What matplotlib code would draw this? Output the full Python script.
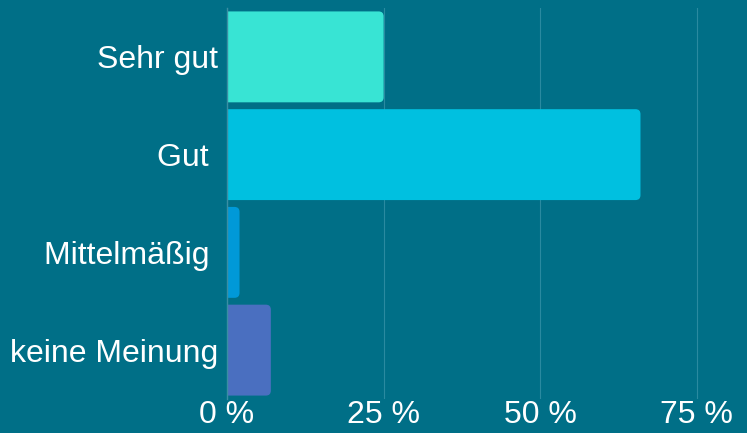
import matplotlib
matplotlib.use("Agg")
import matplotlib.pyplot as plt
from matplotlib.patches import FancyBboxPatch

categories = ['Sehr gut', 'Gut ', 'Mittelmäßig ', 'keine Meinung']
values = [25, 66, 2, 7]
colors = ['#38e4d4', '#00c0e0', '#0099d8', '#4a6fc0']
ticks = [0, 25, 50, 75]
tick_labels = ['0 %', '25 %', '50 %', '75 %']

bg = '#006f87'
plt.rcParams['font.family'] = ['Liberation Sans', 'DejaVu Sans']

fig = plt.figure(figsize=(7.47, 4.33), dpi=100, facecolor=bg)
ax = fig.add_axes([227 / 747, 34 / 433, 520 / 747, 391 / 433], facecolor=bg)

xmax = 83
ax.set_xlim(0, xmax)
ax.set_ylim(len(categories) - 0.5, -0.5)

# rounded bars: convert a 5px radius into data units
px_x = 520 / xmax
px_y = 391 / len(categories)
r = 5 / px_x
aspect = px_x / px_y
h = 0.93
for i, (v, c) in enumerate(zip(values, colors)):
    p = FancyBboxPatch((-r, i - h / 2), v + r, h,
                       boxstyle=f"round,pad=0,rounding_size={r}",
                       mutation_aspect=aspect, facecolor=c, edgecolor='none',
                       zorder=3)
    ax.add_patch(p)

ax.set_yticks(range(len(categories)))
ax.set_yticklabels(categories)
ax.set_xticks(ticks)
ax.set_xticklabels(tick_labels)
ax.tick_params(axis='both', length=0, colors='white', labelsize=23)
ax.tick_params(axis='y', pad=6.5)
ax.tick_params(axis='x', pad=1)
ax.grid(axis='x', color='#2a8aa0', linewidth=0.8, zorder=0)
for s in ['top', 'right', 'bottom']:
    ax.spines[s].set_visible(False)
ax.spines['left'].set_color('#3a8ea3')
ax.spines['left'].set_linewidth(1)
ax.spines['left'].set_zorder(4)

fig.savefig('out.png', dpi=100, facecolor=bg)
